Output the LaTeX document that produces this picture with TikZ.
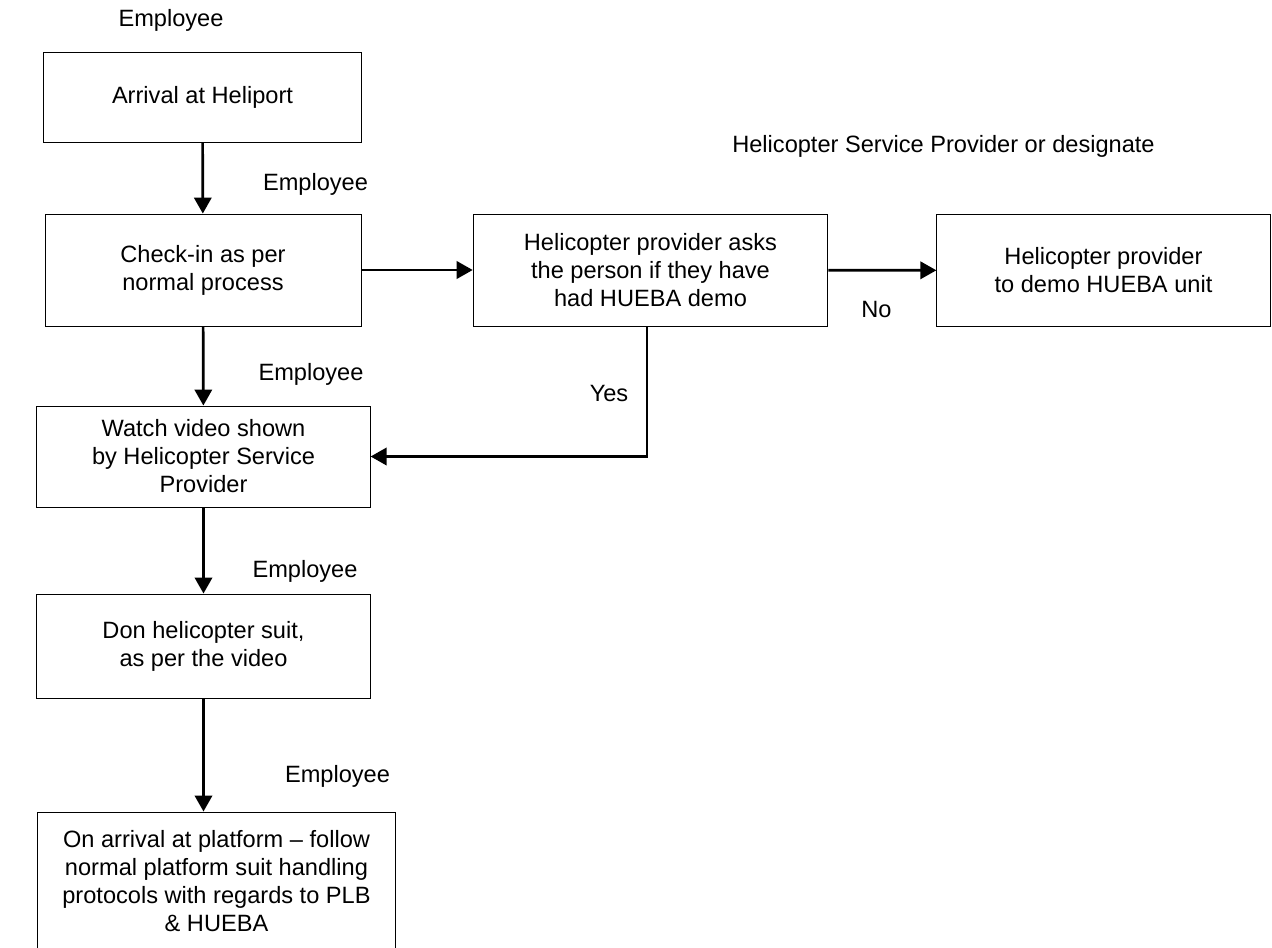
\documentclass[tikz,border=0pt]{standalone}
\usepackage{fontspec}
\setmainfont{Liberation Sans}
\usetikzlibrary{arrows.meta,positioning}
\begin{document}
\begin{tikzpicture}[x=0.75pt,y=-0.75pt,
  txt/.style={font=\fontsize{17.7pt}{21pt}\selectfont,inner sep=0pt},
  box/.style={txt,draw,line width=0.7pt,align=center},
  flow/.style={line width=2pt,-{Triangle[length=12pt,width=13pt]}}]
\useasboundingbox (0,0) rectangle (1272,947);
\node[txt] (emp0) at (171,20) {Employee};
\node[box,minimum width=239pt,minimum height=67.5pt] (arrive) at (202.5,97) {Arrival at Heliport};
\node[txt] (emp1) at (315.5,184) {Employee};
\node[box,minimum width=237pt,minimum height=84pt] (checkin) at (203,270) {Check-in as per\\normal process};
\node[txt] (hsp) at (943.5,146) {Helicopter Service Provider or designate};
\node[box,minimum width=266pt,minimum height=84pt] (asks) at (650.5,270) {Helicopter provider asks\\the person if they have\\had HUEBA demo};
\node[box,minimum width=250pt,minimum height=84.5pt] (demo) at (1103.5,270.5) {Helicopter provider\\to demo HUEBA unit};
\node[txt] (no) at (876.5,309) {No};
\node[txt] (yes) at (609,393) {Yes};
\node[txt] (emp2) at (311,374) {Employee};
\node[box,minimum width=250pt,minimum height=75.75pt] (video) at (203.5,456.5) {Watch video shown\\by Helicopter Service\\Provider};
\node[txt] (emp3) at (305,571) {Employee};
\node[box,minimum width=250pt,minimum height=78pt] (suit) at (203.5,646) {Don helicopter suit,\\as per the video};
\node[txt] (emp4) at (337.5,776) {Employee};
\node[box,minimum width=269pt,minimum height=103.5pt] (platform) at (216.5,881) {On arrival at platform -- follow\\normal platform suit handling\\protocols with regards to PLB\\\& HUEBA};
\draw[flow] (arrive) -- (checkin);
\draw[flow] (checkin) -- (asks);
\draw[flow] (asks) -- (demo);
\draw[flow] (checkin) -- (video);
\draw[flow] ([xshift=-2.6pt]asks.south) |- (video.east);
\draw[flow] (video) -- (suit);
\draw[flow] (suit.south) -- (suit.south |- platform.north);
\end{tikzpicture}
\end{document}
